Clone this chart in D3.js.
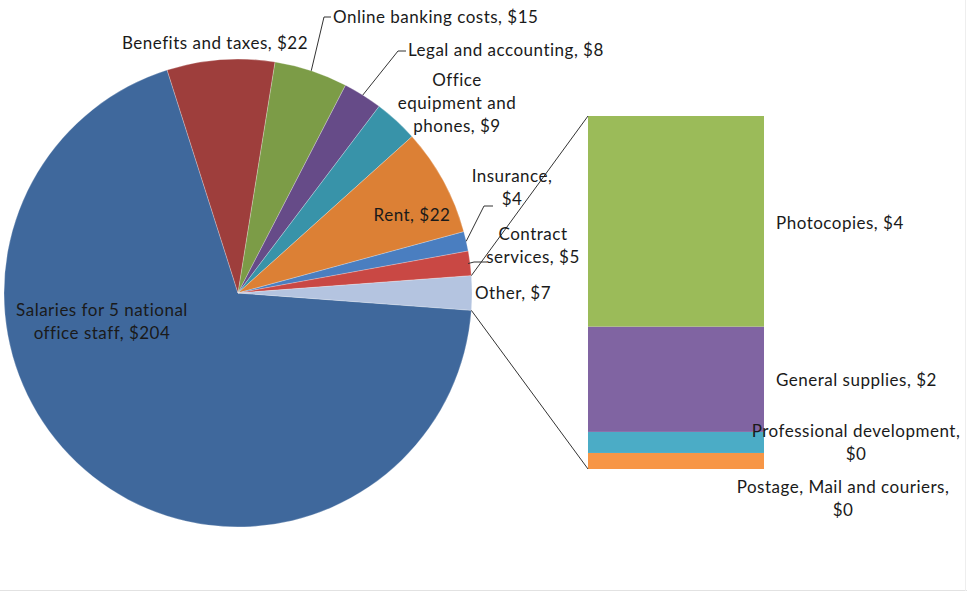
<!DOCTYPE html>
<html>
<head>
<meta charset="utf-8">
<script src="https://cdn.jsdelivr.net/npm/d3@7"></script>
<style>
  html, body { margin: 0; padding: 0; background: #fff; }
  svg { display: block; }
  text { font-family: Lato, "Open Sans", sans-serif; fill: #1a1a1a; }
</style>
</head>
<body>
<svg id="chart" width="967" height="592"></svg>
<script>
// ---- Data ----
const pieCategories = ["Salaries for 5 national office staff", "Benefits and taxes", "Online banking costs",
  "Legal and accounting", "Office equipment and phones", "Rent", "Insurance", "Contract services", "Other"];
const pieValues = [204, 22, 15, 8, 9, 22, 4, 5, 7];
const pieColors = ["#3f689c", "#9e3e3c", "#7c9c47", "#664b88", "#3893a9", "#dc8035", "#4a7ec0", "#c94844", "#b4c4e0"];

const barCategories = ["Postage, Mail and couriers", "Professional development", "General supplies", "Photocopies"];
const barValues = [0.32, 0.42, 2.1, 4.2];
const barColors = ["#f79646", "#4bacc6", "#8064a2", "#9bbb59"];

// ---- Layout ----
const svg = d3.select("#chart");
const W = 967, H = 592;
const cx = 238, cy = 293, R = 234;
const fmt = v => "$" + d3.format(".0f")(v);

const total = d3.sum(pieValues);
const otherSpan = pieValues[pieValues.length - 1] / total * 2 * Math.PI;
const start = Math.PI / 2 + otherSpan / 2;
const pie = d3.pie().sort(null).value(d => d).startAngle(start).endAngle(start + 2 * Math.PI);
const arcs = pie(pieValues);
const arc = d3.arc().innerRadius(0).outerRadius(R);

const g = svg.append("g").attr("transform", `translate(${cx},${cy})`);
g.selectAll("path").data(arcs).join("path")
  .attr("d", arc)
  .attr("fill", (d, i) => pieColors[i])
  .attr("stroke", "rgba(255,255,255,0.35)")
  .attr("stroke-width", 0.7);

const pt = (a, r) => [cx + r * Math.sin(a), cy - r * Math.cos(a)];

// ---- Bar ----
const barX0 = 588, barX1 = 764;
const y = d3.scaleLinear().domain([0, d3.sum(barValues)]).range([469, 116]);
const cum = d3.cumsum(barValues);
const barData = barValues.map((v, i) => ({ v, y0: cum[i] - v, y1: cum[i], i }));
svg.selectAll("rect.bar").data(barData).join("rect")
  .attr("class", "bar")
  .attr("x", barX0)
  .attr("width", barX1 - barX0)
  .attr("y", d => y(d.y1))
  .attr("height", d => y(d.y0) - y(d.y1))
  .attr("fill", d => barColors[d.i]);

// ---- Connector lines ----
const otherArc = arcs[arcs.length - 1];
const pTop = pt(otherArc.startAngle, R);
const pBot = pt(otherArc.endAngle, R);
svg.append("line").attr("x1", pTop[0]).attr("y1", pTop[1]).attr("x2", barX0).attr("y2", y(d3.sum(barValues)))
  .attr("stroke", "#333").attr("stroke-width", 1);
svg.append("line").attr("x1", pBot[0]).attr("y1", pBot[1]).attr("x2", barX0).attr("y2", y(0))
  .attr("stroke", "#333").attr("stroke-width", 1);

// ---- Labels ----
const FS = 17;
function label(lines, x, yTop, anchor) {
  const t = svg.append("text").attr("x", x).attr("y", yTop).attr("text-anchor", anchor || "middle")
    .style("font-size", FS + "px").style("letter-spacing", "0.5px");
  lines.forEach((l, k) => t.append("tspan").attr("x", x).attr("dy", k === 0 ? 0 : 23).text(l));
}
function leader(points) {
  svg.append("polyline").attr("points", points.map(p => p.join(",")).join(" "))
    .attr("fill", "none").attr("stroke", "#333").attr("stroke-width", 1);
}
const mid = i => (arcs[i].startAngle + arcs[i].endAngle) / 2;

label([`${pieCategories[1]}, ${fmt(pieValues[1])}`], 215, 49);
label([`${pieCategories[2]}, ${fmt(pieValues[2])}`], 333, 23, "start");
leader([[331, 17], [324, 17], pt(mid(2), R)]);
label([`${pieCategories[3]}, ${fmt(pieValues[3])}`], 408, 56, "start");
leader([[406, 51], [398, 51], pt(mid(3), R)]);
label(["Office", "equipment and", `phones, ${fmt(pieValues[4])}`], 457, 86);
label([`${pieCategories[5]}, ${fmt(pieValues[5])}`], 412, 221);
label(["Insurance,", fmt(pieValues[6])], 512, 182);
leader([[493, 206], [484, 206], pt(mid(6), R)]);
label(["Contract", `services, ${fmt(pieValues[7])}`], 533, 240);
leader([[487, 262], [474, 262], pt(mid(7), R - 2)]);
label([`${pieCategories[8]}, ${fmt(pieValues[8])}`], 475, 299, "start");
label(["Salaries for 5 national", `office staff, ${fmt(pieValues[0])}`], 102, 316);

label([`${barCategories[3]}, ${fmt(barValues[3])}`], 776, 229, "start");
label([`${barCategories[2]}, ${fmt(barValues[2])}`], 776, 386, "start");
label([`${barCategories[1]},`, fmt(barValues[1])], 856, 437);
label([`${barCategories[0]},`, fmt(barValues[0])], 843, 493);

// frame edges
svg.append("line").attr("x1", 0).attr("x2", W).attr("y1", 590.5).attr("y2", 590.5).attr("stroke", "#e2e2e2");
svg.append("line").attr("x1", 965.5).attr("x2", 965.5).attr("y1", 0).attr("y2", 591).attr("stroke", "#eeeeee");
</script>
</body>
</html>
